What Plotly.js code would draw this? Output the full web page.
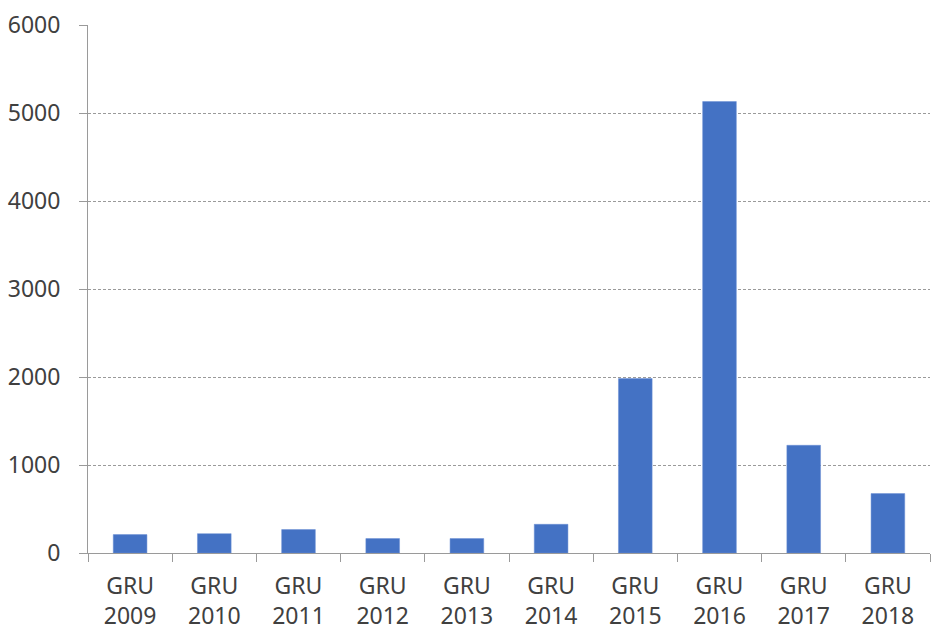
<!DOCTYPE html>
<html>
<head>
<meta charset="utf-8">
<script src="https://cdn.plot.ly/plotly-3.0.1.min.js"></script>
<style>html,body{margin:0;padding:0;background:#fff;}#chart{width:933px;height:630px;}</style>
</head>
<body>
<div id="chart"></div>
<script>
const categories = ["GRU<br>2009","GRU<br>2010","GRU<br>2011","GRU<br>2012","GRU<br>2013","GRU<br>2014","GRU<br>2015","GRU<br>2016","GRU<br>2017","GRU<br>2018"];
const values = [209, 220, 266, 164, 164, 326, 1982, 5130, 1224, 675];
const yTicks = [0, 1000, 2000, 3000, 4000, 5000, 6000];

const trace = {
  type: "bar",
  x: categories,
  y: values,
  marker: {color: "#4472C4", line: {color: "#6a8fd4", width: 0.5}},
  hoverinfo: "x+y"
};

const layout = {
  width: 933,
  height: 630,
  margin: {l: 88, r: 3, t: 25, b: 77},
  paper_bgcolor: "#ffffff",
  plot_bgcolor: "#ffffff",
  bargap: 0.6,
  showlegend: false,
  font: {family: "Noto Sans, Open Sans, sans-serif", size: 23, color: "#404040"},
  xaxis: {
    type: "category",
    showline: true,
    linecolor: "#9a9a9a",
    linewidth: 1,
    ticks: "outside",
    tickson: "boundaries",
    ticklen: 8,
    tickcolor: "#9a9a9a",
    showgrid: false,
    ticklabelstandoff: 12,
    tickfont: {size: 23, color: "#404040"}
  },
  yaxis: {
    range: [0, 6000],
    tickvals: yTicks,
    ticktext: yTicks.map(String),
    showline: true,
    linecolor: "#9a9a9a",
    linewidth: 1,
    ticks: "outside",
    ticklen: 8,
    tickcolor: "#9a9a9a",
    showgrid: true,
    gridcolor: "#9a9a9a",
    griddash: "3px,2px",
    gridwidth: 1,
    zeroline: false,
    ticklabelstandoff: 14,
    tickfont: {size: 23, color: "#404040"}
  }
};

Plotly.newPlot("chart", [trace], layout, {displayModeBar: false, staticPlot: true});
</script>
</body>
</html>
